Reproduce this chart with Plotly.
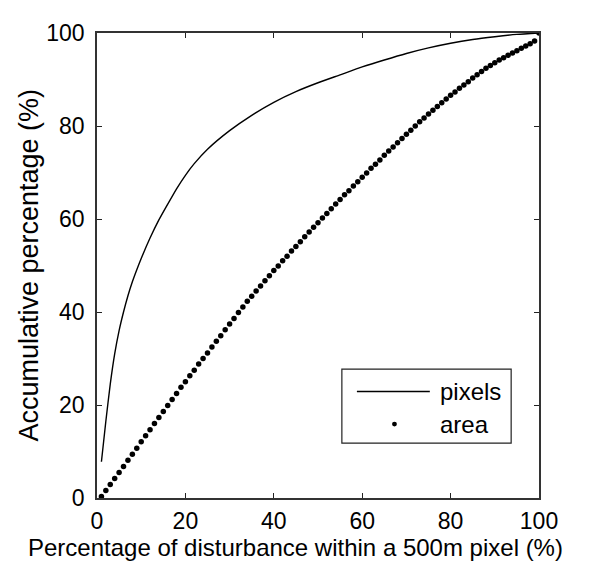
import plotly.graph_objects as go

# ---- data ----
pixels_x = [1, 2, 3, 4, 5, 6, 7, 8, 9, 10, 12, 14, 16, 18, 20, 22, 25, 30, 35, 40,
            45, 50, 55, 60, 65, 70, 75, 80, 85, 90, 95, 100]
pixels_y = [7.8, 16.5, 24.5, 31.0, 36.0, 40.0, 43.5, 46.5, 49.1, 51.5, 55.9, 59.8,
            63.2, 66.5, 69.4, 71.9, 75.0, 79.0, 82.3, 85.1, 87.4, 89.3, 91.0, 92.7,
            94.2, 95.6, 96.8, 97.8, 98.6, 99.2, 99.7, 100.0]

area_x = list(range(1, 101))
area_y = [0.3, 1.6, 2.9, 4.2, 5.5, 6.8, 8.1, 9.4, 10.7, 12.1,
          13.4, 14.7, 16.0, 17.3, 18.6, 19.9, 21.2, 22.5, 23.8, 25.0,
          26.3, 27.5, 28.8, 30.0, 31.2, 32.5, 33.7, 34.9, 36.2, 37.4,
          38.6, 39.9, 41.1, 42.3, 43.4, 44.5, 45.6, 46.7, 47.8, 48.9,
          49.9, 51.0, 52.0, 53.1, 54.1, 55.1, 56.2, 57.2, 58.2, 59.2,
          60.2, 61.2, 62.2, 63.2, 64.2, 65.2, 66.1, 67.1, 68.0, 69.0,
          69.9, 70.9, 71.8, 72.7, 73.7, 74.6, 75.5, 76.4, 77.3, 78.2,
          79.1, 80.0, 80.9, 81.7, 82.6, 83.4, 84.2, 85.0, 85.8, 86.6,
          87.3, 88.1, 88.8, 89.5, 90.3, 91.0, 91.7, 92.4, 93.0, 93.6,
          94.2, 94.7, 95.2, 95.7, 96.2, 96.7, 97.2, 97.7, 98.3, 100.0]

tick_vals = [0, 20, 40, 60, 80, 100]
x_title = "Percentage of disturbance within a 500m pixel (%)"
y_title = "Accumulative percentage (%)"
legend_names = ["pixels", "area"]

FONT = "Arial, Liberation Sans, Helvetica, sans-serif"

fig = go.Figure()
fig.add_trace(go.Scatter(x=pixels_x, y=pixels_y, mode="lines", name=legend_names[0],
                         line=dict(color="black", width=1.4, shape="spline", smoothing=0.5),
                         showlegend=False))
fig.add_trace(go.Scatter(x=area_x, y=area_y, mode="markers", name=legend_names[1],
                         marker=dict(color="black", size=5.5, line=dict(width=0)),
                         showlegend=False))

axis_common = dict(range=[0, 100], tickvals=tick_vals, ticks="inside", ticklen=5,
                   tickwidth=1, tickcolor="#222", showline=True, linecolor="#333",
                   linewidth=1.5, mirror="allticks", showgrid=False, zeroline=False,
                   ticklabeloverflow="allow",
                   tickfont=dict(family=FONT, size=23, color="black"))
fig.update_xaxes(**axis_common, ticklabelstandoff=2)
fig.update_yaxes(**axis_common, ticklabelstandoff=6)

# manual legend (box, sample line, sample dot, labels)
fig.add_shape(type="rect", xref="paper", yref="paper", x0=0.554, x1=0.937, y0=0.118, y1=0.277,
              line=dict(color="#222", width=1.2), fillcolor="white", layer="above")
fig.add_shape(type="line", xref="paper", yref="paper", x0=0.588, x1=0.753, y0=0.229, y1=0.229,
              line=dict(color="black", width=1.4), layer="above")
fig.add_shape(type="circle", xref="paper", yref="paper", x0=0.673 - 0.0055, x1=0.673 + 0.0055,
              y0=0.159 - 0.0052, y1=0.159 + 0.0052, line=dict(width=0), fillcolor="black",
              layer="above")
fig.add_annotation(x=0.771, y=0.229, xref="paper", yref="paper", text=legend_names[0],
                   showarrow=False, xanchor="left", yanchor="middle",
                   font=dict(family=FONT, size=24, color="black"))
fig.add_annotation(x=0.771, y=0.159, xref="paper", yref="paper", text=legend_names[1],
                   showarrow=False, xanchor="left", yanchor="middle",
                   font=dict(family=FONT, size=24, color="black"))

# axis titles
fig.add_annotation(x=0.448, y=-0.107, xref="paper", yref="paper", text=x_title,
                   showarrow=False, xanchor="center", yanchor="middle",
                   font=dict(family=FONT, size=24, color="black"))
fig.add_annotation(x=-0.156, y=0.5, xref="paper", yref="paper", text=y_title, textangle=-90,
                   showarrow=False, xanchor="center", yanchor="middle",
                   font=dict(family=FONT, size=27, color="black"))

fig.update_layout(width=585, height=554, margin=dict(l=89, r=54, t=13, b=64),
                  plot_bgcolor="white", paper_bgcolor="white", showlegend=False)

fig.write_html("out.html")
